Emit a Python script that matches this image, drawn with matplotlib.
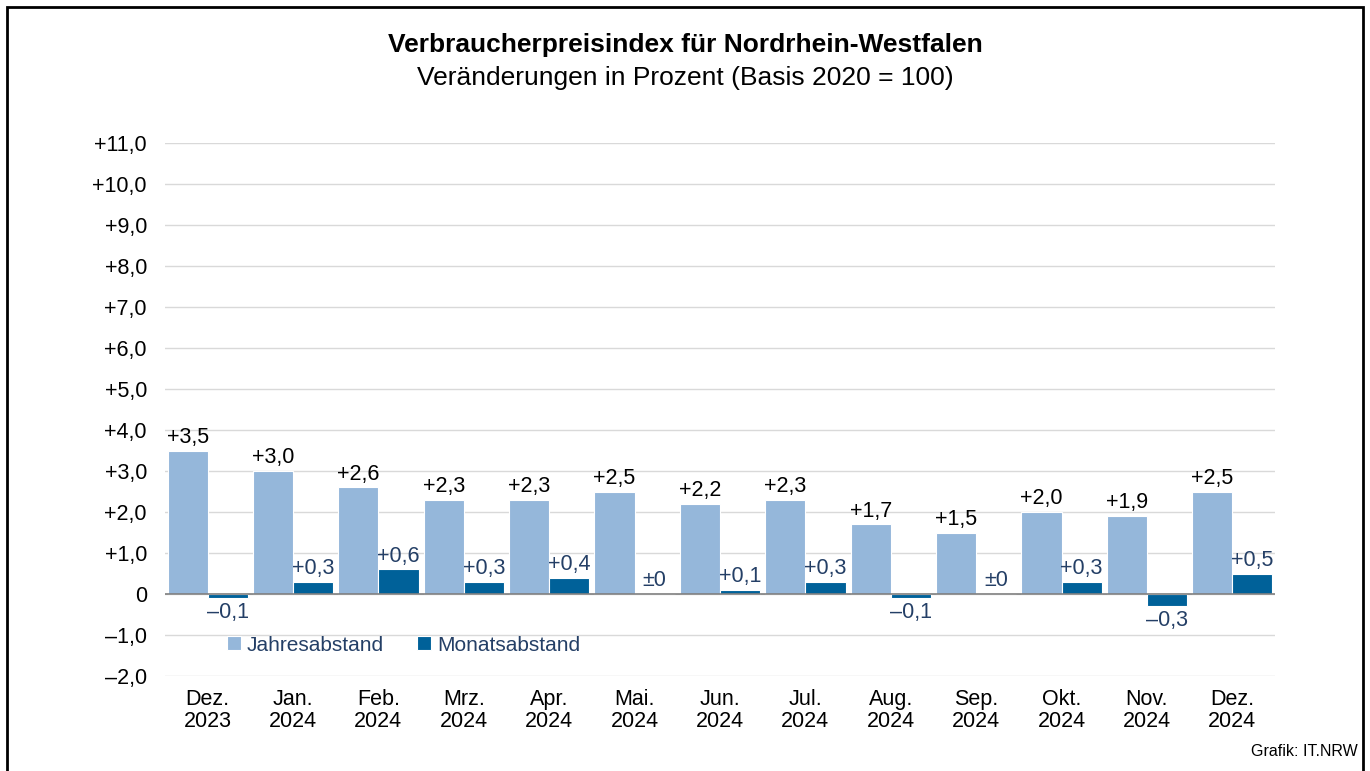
import matplotlib.pyplot as plt
import matplotlib.patches as patches
import numpy as np

plt.rcParams['font.family'] = ['Liberation Sans', 'DejaVu Sans']

monate = ["Dez.\n2023", "Jan.\n2024", "Feb.\n2024", "Mrz.\n2024", "Apr.\n2024", "Mai.\n2024",
          "Jun.\n2024", "Jul.\n2024", "Aug.\n2024", "Sep.\n2024", "Okt.\n2024", "Nov.\n2024",
          "Dez.\n2024"]
jahresabstand = [3.5, 3.0, 2.6, 2.3, 2.3, 2.5, 2.2, 2.3, 1.7, 1.5, 2.0, 1.9, 2.5]
monatsabstand = [-0.1, 0.3, 0.6, 0.3, 0.4, 0.0, 0.1, 0.3, -0.1, 0.0, 0.3, -0.3, 0.5]
yticks = np.arange(-2, 12, 1)

hell = '#95B7DA'
dunkel = '#006199'
navy = '#243F66'


def fmt(v):
    if v == 0:
        return '\u00b10'
    s = '{:.1f}'.format(abs(v)).replace('.', ',')
    return ('+' if v > 0 else '\u2013') + s


fig = plt.figure(figsize=(13.7, 7.71), dpi=100)
ax = fig.add_axes([0.1204, 0.1232, 0.8103, 0.6913])

x = np.arange(len(monate))
w = 0.47
b1 = ax.bar(x - w / 2, jahresabstand, w, color=hell, edgecolor='white', linewidth=0.8,
            label='Jahresabstand', zorder=3)
b2 = ax.bar(x + w / 2, monatsabstand, w, color=dunkel, edgecolor='white', linewidth=0.8,
            label='Monatsabstand', zorder=3)

for r, v in zip(b1, jahresabstand):
    ax.annotate(fmt(v), xy=(r.get_x() + r.get_width() / 2, v), xytext=(0, 2),
                textcoords='offset points', ha='center', va='bottom', fontsize=15.5, color='black')
for r, v in zip(b2, monatsabstand):
    if v < 0:
        ax.annotate(fmt(v), xy=(r.get_x() + r.get_width() / 2, v), xytext=(0, -3),
                    textcoords='offset points', ha='center', va='top', fontsize=15.5, color=navy)
    else:
        ax.annotate(fmt(v), xy=(r.get_x() + r.get_width() / 2, v), xytext=(0, 2),
                    textcoords='offset points', ha='center', va='bottom', fontsize=15.5, color=navy)

ax.set_xlim(-0.5, len(monate) - 0.5)
ax.set_ylim(-2, 11)
ax.set_yticks(yticks)
ax.set_yticklabels(['0' if t == 0 else fmt(t) for t in yticks], fontsize=15.5)
ax.set_xticks(x)
ax.set_xticklabels(monate, fontsize=15.5, linespacing=1.1)
ax.tick_params(axis='x', length=0, pad=9)
ax.tick_params(axis='y', length=0, pad=13)
ax.grid(axis='y', color='#D9D9D9', linewidth=1, zorder=0)
ax.axhline(0, color='#7F7F7F', linewidth=1.2, zorder=4)
for s in ax.spines.values():
    s.set_visible(False)

leg = ax.legend(loc='center left', bbox_to_anchor=(0.039, 0.058), ncol=2, frameon=False,
                fontsize=15, handlelength=0.65, handleheight=0.65, handletextpad=0.3,
                columnspacing=1.6)
for t in leg.get_texts():
    t.set_color(navy)

fig.text(0.5, 0.941, 'Verbraucherpreisindex für Nordrhein-Westfalen', ha='center', va='center',
         fontsize=19, fontweight='bold')
fig.text(0.5, 0.899, 'Veränderungen in Prozent (Basis 2020 = 100)', ha='center', va='center',
         fontsize=19)
fig.text(0.991, 0.025, 'Grafik: IT.NRW', ha='right', va='center', fontsize=11.5)

fig.patches.append(patches.Rectangle((7 / 1370, -0.05), (1363 - 7) / 1370, 1.05 - 7 / 771,
                                     transform=fig.transFigure, fill=False, edgecolor='black',
                                     linewidth=2))

fig.savefig('out.png', dpi=100)
